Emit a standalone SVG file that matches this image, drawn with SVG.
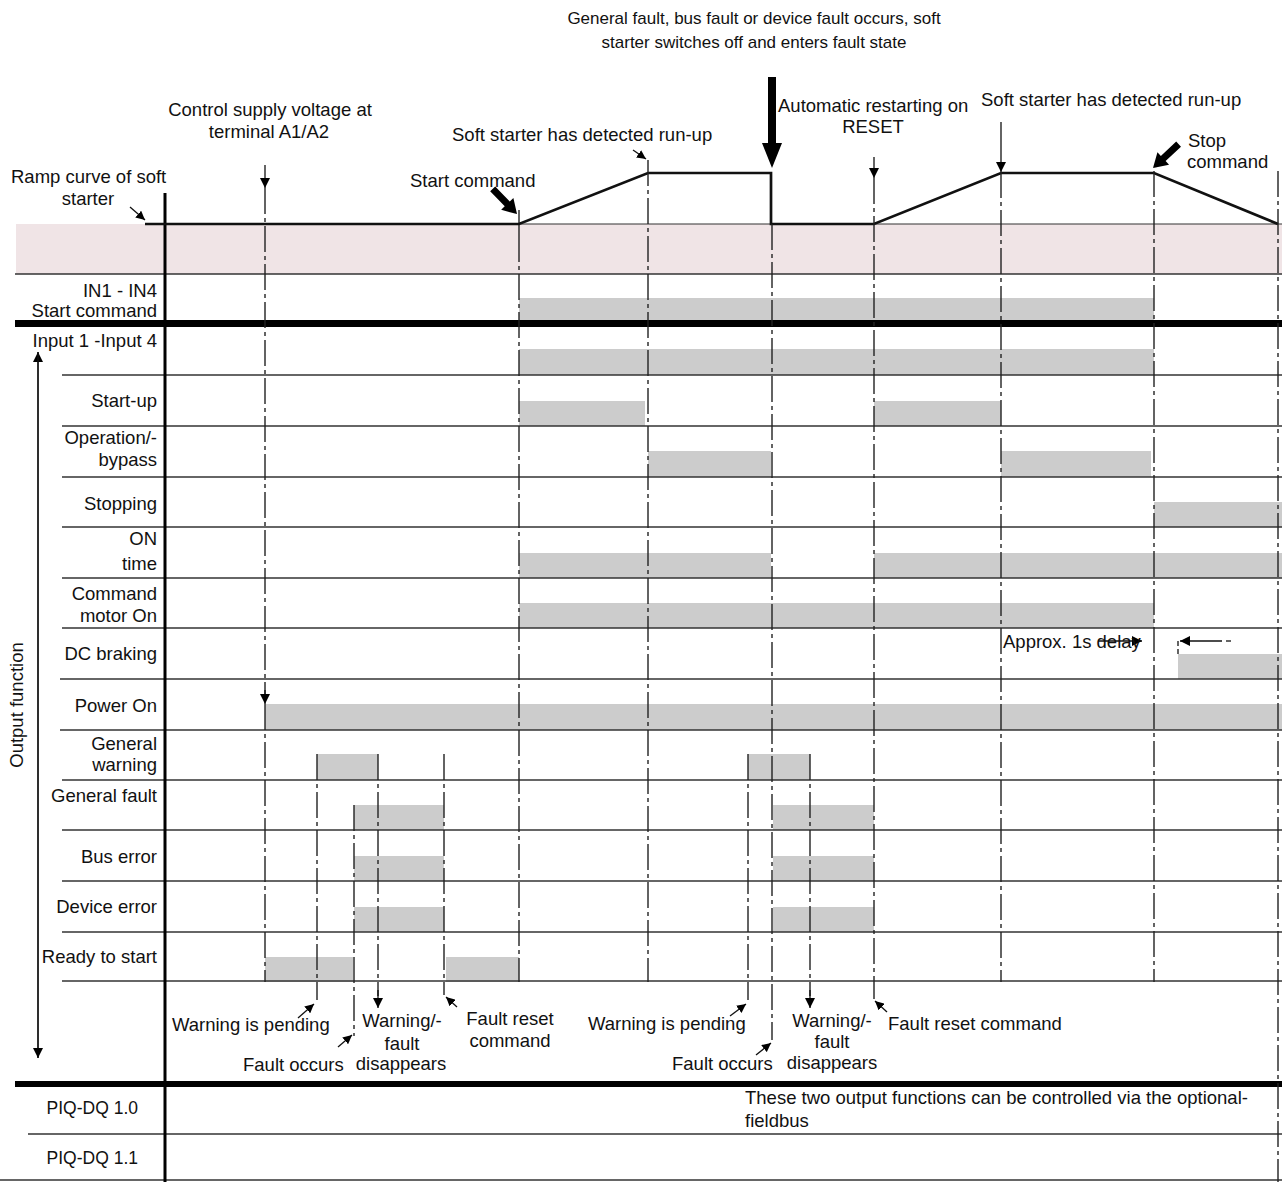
<svg xmlns="http://www.w3.org/2000/svg" width="1282" height="1182" viewBox="0 0 1282 1182">
<style>
text{font-family:"Liberation Sans",Arial,sans-serif;font-size:18.5px;fill:#111}
.r{text-anchor:end}
.m{text-anchor:middle}
.top{font-size:17px}
.bar{fill:#cccccc}
.row{stroke:#333;stroke-width:1.5;fill:none}
.thick{stroke:#000;stroke-width:7;fill:none}
.dd{stroke:#222;stroke-width:1.4;fill:none;stroke-dasharray:26 4 4 4}
.th{stroke:#111;stroke-width:1.3;fill:none}
.ramp{stroke:#111;stroke-width:2.7;fill:none;stroke-linejoin:miter}
.fat{fill:#000}
</style>
<defs>
<marker id="ah" viewBox="0 0 10 10" refX="10" refY="5" markerWidth="10" markerHeight="11" orient="auto" markerUnits="userSpaceOnUse"><path d="M0,0 L10,5 L0,10 z" fill="#000"/></marker>
<marker id="as" viewBox="0 0 10 10" refX="10" refY="5" markerWidth="9" markerHeight="9" orient="auto" markerUnits="userSpaceOnUse"><path d="M0,0 L10,5 L0,10 z" fill="#000"/></marker>
<polygon id="fatArrow" points="-35,-3.5 -14,-3.5 -14,-8.5 0,0 -14,8.5 -14,3.5 -35,3.5"/>
</defs>

<g id="background">
<rect x="16" y="224" width="1266" height="50" fill="#f0e4e6"/>
</g>

<g id="bars">
<rect class="bar" x="519" y="298" width="635" height="22"/>
<rect class="bar" x="519" y="349" width="635" height="26"/>
<rect class="bar" x="519" y="401" width="126" height="25"/>
<rect class="bar" x="874" y="401" width="127" height="25"/>
<rect class="bar" x="648" y="451" width="123" height="26"/>
<rect class="bar" x="1001" y="451" width="150" height="26"/>
<rect class="bar" x="1154" y="502" width="128" height="25"/>
<rect class="bar" x="519" y="553" width="252" height="25"/>
<rect class="bar" x="874" y="553" width="408" height="25"/>
<rect class="bar" x="519" y="603" width="635" height="25"/>
<rect class="bar" x="1178" y="654" width="104" height="25"/>
<rect class="bar" x="265" y="704" width="1017" height="26"/>
<rect class="bar" x="317" y="754" width="61" height="26"/>
<rect class="bar" x="748" y="754" width="62" height="26"/>
<rect class="bar" x="354" y="805" width="90" height="25"/>
<rect class="bar" x="773" y="805" width="101" height="25"/>
<rect class="bar" x="354" y="856" width="90" height="25"/>
<rect class="bar" x="773" y="856" width="101" height="25"/>
<rect class="bar" x="354" y="907" width="90" height="25"/>
<rect class="bar" x="773" y="907" width="101" height="25"/>
<rect class="bar" x="265" y="957" width="88" height="25"/>
<rect class="bar" x="446" y="957" width="73" height="25"/>
</g>

<g id="grid">
<line class="row" x1="145" y1="224" x2="1282" y2="224" style="stroke-width:1.2"/>
<line class="row" x1="15" y1="274" x2="1282" y2="274"/>
<line class="thick" x1="15" y1="323.5" x2="1282" y2="323.5"/>
<line class="row" x1="62" y1="375" x2="1282" y2="375"/>
<line class="row" x1="62" y1="426" x2="1282" y2="426"/>
<line class="row" x1="62" y1="477" x2="1282" y2="477"/>
<line class="row" x1="62" y1="527" x2="1282" y2="527"/>
<line class="row" x1="62" y1="578" x2="1282" y2="578"/>
<line class="row" x1="62" y1="628" x2="1282" y2="628"/>
<line class="row" x1="60" y1="679" x2="1282" y2="679"/>
<line class="row" x1="60" y1="730" x2="1282" y2="730"/>
<line class="row" x1="62" y1="780" x2="1282" y2="780"/>
<line class="row" x1="62" y1="830" x2="1282" y2="830"/>
<line class="row" x1="62" y1="881" x2="1282" y2="881"/>
<line class="row" x1="62" y1="932" x2="1282" y2="932"/>
<line class="row" x1="62" y1="981" x2="1282" y2="981"/>
<line class="thick" x1="15" y1="1084" x2="1282" y2="1084" style="stroke-width:6"/>
<line class="row" x1="28" y1="1134" x2="1282" y2="1134"/>
<line class="row" x1="0" y1="1180" x2="1282" y2="1180"/>
<line x1="165" y1="193" x2="165" y2="1182" stroke="#000" stroke-width="3"/>
</g>

<g id="connectors">
<path class="ramp" d="M145,224 H519 L648,173 H771 V224 H874 L1001,173 H1154 L1278,224"/>
<line class="th" x1="265" y1="165" x2="265" y2="188" marker-end="url(#ah)"/>
<line class="dd" x1="265" y1="188" x2="265" y2="694"/>
<line class="th" x1="265" y1="690" x2="265" y2="704" marker-end="url(#ah)"/>
<line class="dd" x1="265" y1="704" x2="265" y2="982"/>
<line class="dd" x1="317" y1="754" x2="317" y2="1000"/>
<line class="dd" x1="354" y1="805" x2="354" y2="1036"/>
<line class="dd" x1="378" y1="754" x2="378" y2="996"/>
<line class="th" x1="378" y1="990" x2="378" y2="1008" marker-end="url(#ah)"/>
<line class="dd" x1="444" y1="754" x2="444" y2="995"/>
<line class="th" x1="519" y1="210" x2="519" y2="236"/>
<line class="dd" x1="519" y1="236" x2="519" y2="982"/>
<line class="dd" x1="648" y1="160" x2="648" y2="982"/>
<line class="dd" x1="748" y1="754" x2="748" y2="1000"/>
<line class="dd" x1="772" y1="224" x2="772" y2="1040"/>
<line class="dd" x1="810" y1="754" x2="810" y2="996"/>
<line class="th" x1="810" y1="990" x2="810" y2="1008" marker-end="url(#ah)"/>
<line class="th" x1="874" y1="157" x2="874" y2="178" marker-end="url(#ah)"/>
<line class="dd" x1="874" y1="178" x2="874" y2="999"/>
<line class="th" x1="1001" y1="122" x2="1001" y2="172" marker-end="url(#ah)"/>
<line class="dd" x1="1001" y1="172" x2="1001" y2="982"/>
<line class="dd" x1="1154" y1="171" x2="1154" y2="982"/>
<line class="dd" x1="1278" y1="171" x2="1278" y2="1182"/>
<line class="th" x1="1098" y1="641" x2="1142" y2="641" marker-end="url(#ah)"/>
<line class="th" x1="1222" y1="641" x2="1180" y2="641" marker-end="url(#ah)"/>
<line class="th" x1="1226" y1="641" x2="1231" y2="641"/>
<line class="th" x1="1178" y1="641" x2="1178" y2="654" style="stroke-dasharray:5 3"/>
<rect class="fat" x="768" y="77" width="8" height="70"/>
<polygon class="fat" points="762,143 782,143 772,168"/>
<use href="#fatArrow" class="fat" transform="translate(517,214) rotate(46)"/>
<use href="#fatArrow" class="fat" transform="translate(1153,168) rotate(137)"/>
<line class="th" x1="130" y1="207" x2="145" y2="220" marker-end="url(#as)"/>
<line class="th" x1="633" y1="150" x2="646" y2="159" marker-end="url(#as)"/>
<line class="th" x1="298" y1="1018" x2="314" y2="1004" marker-end="url(#as)"/>
<line class="th" x1="338" y1="1047" x2="352" y2="1035" marker-end="url(#as)"/>
<line class="th" x1="457" y1="1007" x2="446" y2="997" marker-end="url(#as)"/>
<line class="th" x1="730" y1="1016" x2="746" y2="1004" marker-end="url(#as)"/>
<line class="th" x1="756" y1="1055" x2="771" y2="1043" marker-end="url(#as)"/>
<line class="th" x1="887" y1="1012" x2="875" y2="1001" marker-end="url(#as)"/>
<line class="th" x1="38" y1="1058" x2="38" y2="352" marker-end="url(#ah)"/>
<line class="th" x1="38" y1="352" x2="38" y2="1058" marker-end="url(#ah)"/>
</g>

<g id="row-labels">
<text class="r" x="157" y="297">IN1 - IN4</text>
<text class="r" x="157" y="317">Start command</text>
<text class="r" x="157" y="347">Input 1 -Input 4</text>
<text class="r" x="157" y="407">Start-up</text>
<text class="r" x="157" y="444">Operation/-</text>
<text class="r" x="157" y="466">bypass</text>
<text class="r" x="157" y="510">Stopping</text>
<text class="r" x="157" y="545">ON</text>
<text class="r" x="157" y="570">time</text>
<text class="r" x="157" y="600">Command</text>
<text class="r" x="157" y="622">motor On</text>
<text class="r" x="157" y="660">DC braking</text>
<text class="r" x="157" y="712">Power On</text>
<text class="r" x="157" y="750">General</text>
<text class="r" x="157" y="771">warning</text>
<text class="r" x="157" y="802">General fault</text>
<text class="r" x="157" y="863">Bus error</text>
<text class="r" x="157" y="913">Device error</text>
<text class="r" x="157" y="963">Ready to start</text>
<text class="r" x="138" y="1114" style="font-size:17.5px">PIQ-DQ 1.0</text>
<text class="r" x="138" y="1164" style="font-size:17.5px">PIQ-DQ 1.1</text>
<text class="m" transform="translate(23,705) rotate(-90)">Output function</text>
</g>

<g id="annotations">
<text class="m top" x="754" y="24">General fault, bus fault or device fault occurs, soft</text>
<text class="m top" x="754" y="48">starter switches off and enters fault state</text>
<text class="m" x="270" y="116">Control supply voltage at</text>
<text class="m" x="269" y="138">terminal A1/A2</text>
<text x="11" y="183">Ramp curve of soft</text>
<text class="m" x="88" y="205">starter</text>
<text x="410" y="187">Start command</text>
<text x="452" y="141">Soft starter has detected run-up</text>
<text x="778" y="112">Automatic restarting on</text>
<text class="m" x="873" y="133">RESET</text>
<text x="981" y="106">Soft starter has detected run-up</text>
<text x="1188" y="147">Stop</text>
<text x="1187" y="168">command</text>
<text x="1003" y="648">Approx. 1s delay</text>
<text x="172" y="1031">Warning is pending</text>
<text x="243" y="1071">Fault occurs</text>
<text class="m" x="402" y="1027">Warning/-</text>
<text class="m" x="402" y="1050">fault</text>
<text class="m" x="401" y="1070">disappears</text>
<text class="m" x="510" y="1025">Fault reset</text>
<text class="m" x="510" y="1047">command</text>
<text x="588" y="1030">Warning is pending</text>
<text x="672" y="1070">Fault occurs</text>
<text class="m" x="832" y="1027">Warning/-</text>
<text class="m" x="832" y="1048">fault</text>
<text class="m" x="832" y="1069">disappears</text>
<text x="888" y="1030">Fault reset command</text>
<text x="745" y="1104">These two output functions can be controlled via the optional-</text>
<text x="745" y="1127">fieldbus</text>
</g>
</svg>
